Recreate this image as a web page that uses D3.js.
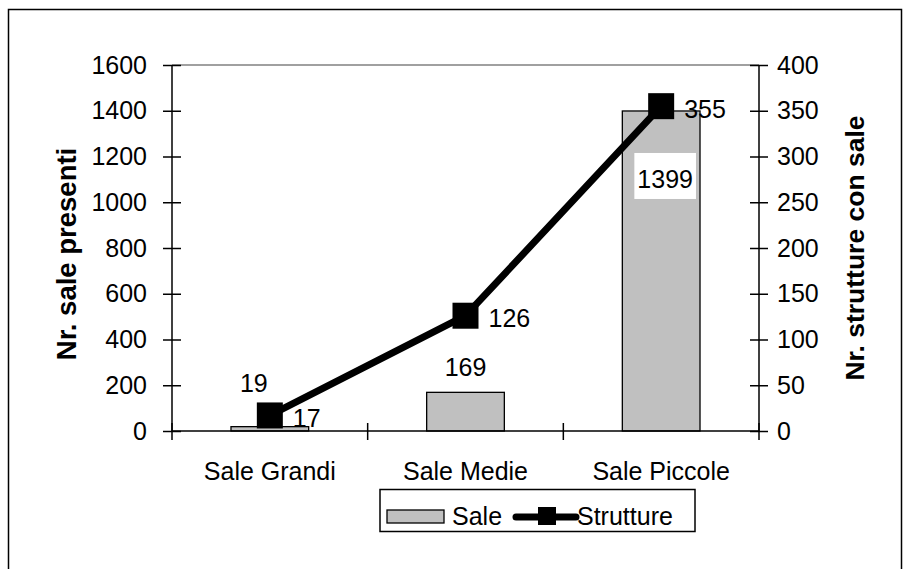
<!DOCTYPE html>
<html>
<head>
<meta charset="utf-8">
<script src="https://cdn.jsdelivr.net/npm/d3@7"></script>
<style>
  html, body { margin: 0; padding: 0; background: #fff; }
  svg { display: block; font-family: "Liberation Sans", Arial, sans-serif; }
</style>
</head>
<body>
<svg id="chart" width="910" height="569"></svg>
<script>
// ---- data ----
const categories = ["Sale Grandi", "Sale Medie", "Sale Piccole"];
const saleValues = [19, 169, 1399];
const strutturaValues = [17, 126, 355];
const leftTicks = [0, 200, 400, 600, 800, 1000, 1200, 1400, 1600];
const rightTicks = [0, 50, 100, 150, 200, 250, 300, 350, 400];
const seriesNames = ["Sale", "Strutture"];
const leftTitle = "Nr. sale presenti";
const rightTitle = "Nr. strutture con sale";

// ---- layout ----
const plot = { left: 172, right: 759, top: 65, bottom: 431 };
const FONT = 25;

const svg = d3.select("#chart");

// outer frame
svg.append("rect")
  .attr("x", 8.5).attr("y", 9.5)
  .attr("width", 893).attr("height", 700)
  .attr("fill", "#fff").attr("stroke", "#000").attr("stroke-width", 1.5);

const x = d3.scaleBand().domain(categories).range([plot.left, plot.right]).padding(0);
const yL = d3.scaleLinear().domain([0, 1600]).range([plot.bottom, plot.top]);
const yR = d3.scaleLinear().domain([0, 400]).range([plot.bottom, plot.top]);

// top gridline
svg.append("line")
  .attr("x1", plot.left).attr("x2", plot.right)
  .attr("y1", yL(1600)).attr("y2", yL(1600))
  .attr("stroke", "#808080").attr("stroke-width", 1.5);

// bars
const barW = x.bandwidth() * 0.397;
svg.append("g").selectAll("rect").data(saleValues).join("rect")
  .attr("x", (d, i) => x(categories[i]) + x.bandwidth() / 2 - barW / 2)
  .attr("y", d => yL(d))
  .attr("width", barW)
  .attr("height", d => yL(0) - yL(d))
  .attr("fill", "#c0c0c0").attr("stroke", "#000").attr("stroke-width", 1.3);

// left axis
const axL = svg.append("g").attr("transform", `translate(${plot.left},0)`)
  .call(d3.axisLeft(yL).tickValues(leftTicks).tickSize(9).tickPadding(16).tickFormat(d3.format("d")));
axL.selectAll(".tick line").attr("x2", -9).attr("x1", 9);
// right axis
const axR = svg.append("g").attr("transform", `translate(${plot.right},0)`)
  .call(d3.axisRight(yR).tickValues(rightTicks).tickSize(9).tickPadding(9).tickFormat(d3.format("d")));
axR.selectAll(".tick line").attr("x1", -9).attr("x2", 9);
// bottom axis (category boundaries as ticks)
const bottomG = svg.append("g").attr("transform", `translate(0,${plot.bottom})`);
bottomG.append("line").attr("x1", plot.left).attr("x2", plot.right)
  .attr("stroke", "#000").attr("stroke-width", 1.5);
const boundaries = categories.map(c => x(c)).concat([x(categories[categories.length - 1]) + x.bandwidth()]);
bottomG.selectAll("line.b").data(boundaries).join("line").attr("class", "b")
  .attr("x1", d => d).attr("x2", d => d).attr("y1", -8).attr("y2", 9)
  .attr("stroke", "#000").attr("stroke-width", 1.5);
bottomG.selectAll("text").data(categories).join("text")
  .attr("x", d => x(d) + x.bandwidth() / 2)
  .attr("y", 49)
  .attr("text-anchor", "middle")
  .attr("font-size", FONT).text(d => d);

[axL, axR].forEach(a => {
  a.select(".domain").attr("stroke", "#000").attr("stroke-width", 1.5)
    .attr("d", `M0,${plot.bottom}V${plot.top}`);
  a.selectAll(".tick line").attr("stroke", "#000").attr("stroke-width", 1.5);
  a.selectAll(".tick text").attr("font-size", FONT).attr("fill", "#000")
    .attr("font-family", "\"Liberation Sans\", Arial, sans-serif");
});

// line series
const pts = strutturaValues.map((v, i) => [x(categories[i]) + x.bandwidth() / 2, yR(v)]);
svg.append("path")
  .attr("d", d3.line()(pts))
  .attr("fill", "none").attr("stroke", "#000").attr("stroke-width", 7)
  .attr("stroke-linejoin", "round");
const M = 26;
svg.append("g").selectAll("rect").data(pts).join("rect")
  .attr("x", d => d[0] - M / 2).attr("y", d => d[1] - M / 2)
  .attr("width", M).attr("height", M).attr("fill", "#000");

// line labels (right of markers)
svg.append("g").selectAll("text").data(strutturaValues).join("text")
  .attr("x", (d, i) => pts[i][0] + 23)
  .attr("y", (d, i) => pts[i][1] + 11.5)
  .attr("font-size", FONT).text(d => d);

// bar labels
const barLabels = svg.append("g");
saleValues.forEach((v, i) => {
  const cx = x(categories[i]) + x.bandwidth() / 2;
  const top = yL(v);
  let lx = cx, ly = top - 16;
  if (i === 0) { lx = cx - 16; ly = top - 35; }   // pushed up-left to avoid marker
  if (i === 2) { lx = cx + 4; ly = top + 77; }    // placed inside the bar
  const t = barLabels.append("text")
    .attr("x", lx).attr("y", ly)
    .attr("text-anchor", "middle").attr("font-size", FONT).text(v);
  if (i === 2) {
    const bb = t.node().getBBox();
    barLabels.insert("rect", "text")
      .attr("x", bb.x - 3).attr("y", ly - 35)
      .attr("width", bb.width + 6).attr("height", 46)
      .attr("fill", "#fff");
  }
});

// axis titles
svg.append("text")
  .attr("transform", `translate(76,${(plot.top + plot.bottom) / 2 + 6}) rotate(-90)`)
  .attr("text-anchor", "middle").attr("font-weight", "bold").attr("font-size", 27.5)
  .text(leftTitle);
svg.append("text")
  .attr("transform", `translate(864,${(plot.top + plot.bottom) / 2 + 0}) rotate(-90)`)
  .attr("text-anchor", "middle").attr("font-weight", "bold").attr("font-size", 26.5)
  .text(rightTitle);

// legend
const lg = svg.append("g");
lg.append("rect").attr("x", 380).attr("y", 489.5).attr("width", 315).attr("height", 42)
  .attr("fill", "#fff").attr("stroke", "#000").attr("stroke-width", 1.5);
lg.append("rect").attr("x", 387).attr("y", 510).attr("width", 57).attr("height", 13)
  .attr("fill", "#c0c0c0").attr("stroke", "#000").attr("stroke-width", 1.3);
lg.append("text").attr("x", 452).attr("y", 525).attr("font-size", FONT).text(seriesNames[0]);
lg.append("line").attr("x1", 516).attr("x2", 576).attr("y1", 517).attr("y2", 517)
  .attr("stroke", "#000").attr("stroke-width", 7).attr("stroke-linecap", "round");
lg.append("rect").attr("x", 538).attr("y", 507).attr("width", 18).attr("height", 18).attr("fill", "#000");
lg.append("text").attr("x", 577).attr("y", 525).attr("font-size", FONT).text(seriesNames[1]);
</script>
</body>
</html>
